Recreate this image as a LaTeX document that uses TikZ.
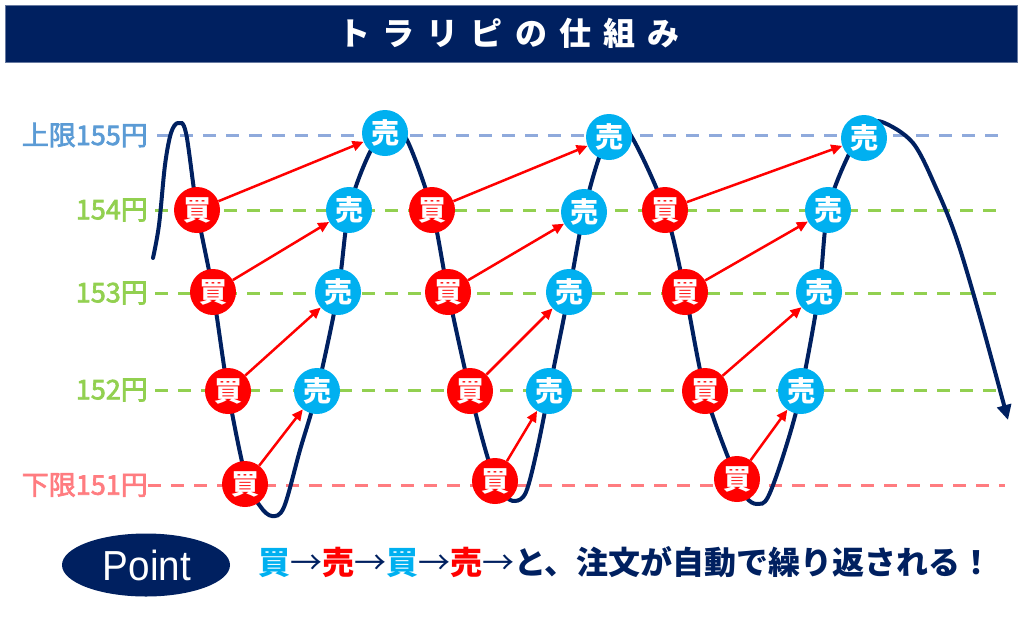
\documentclass[tikz,border=0pt]{standalone}
\usepackage{fontspec}
\setmainfont{Noto Sans CJK JP}
\newfontfamily\jp{Noto Sans CJK JP}
\newfontfamily\jpmed{Noto Sans CJK JP}[FakeBold=2.5]
\newfontfamily\jptitle{Noto Sans CJK JP}[LetterSpace=38]
\newfontfamily\pointfont{Liberation Sans}
\usetikzlibrary{arrows.meta,shapes.geometric}
\definecolor{navy}{HTML}{002060}
\definecolor{buyred}{HTML}{FF0000}
\definecolor{sellcyan}{HTML}{00B0F0}
\definecolor{topblue}{HTML}{8FAADC}
\definecolor{toptext}{HTML}{5B9BD5}
\definecolor{midgreen}{HTML}{92D050}
\definecolor{lowpink}{HTML}{FF7C80}
\tikzset{
  buy/.style={circle, fill=buyred, minimum size=46pt, inner sep=0pt, text=white,
    font=\jp\bfseries\fontsize{28}{28}\selectfont},
  sell/.style={circle, fill=sellcyan, minimum size=46pt, inner sep=0pt, text=white,
    font=\jp\bfseries\fontsize{28}{28}\selectfont},
  lvl/.style={anchor=east, inner sep=0pt, font=\jpmed\fontsize{27}{27}\selectfont},
  gridline/.style={dash pattern=on 13pt off 10pt, line width=3pt},
  pricecurve/.style={navy, line width=4pt, line cap=round},
  order/.style={buyred, line width=2.5pt, -{Triangle[length=11pt,width=10pt]}},
}
\newcommand{\thinarrow}{{\mdseries\jp →}}
\begin{document}
\begin{tikzpicture}[x=1pt,y=-1pt]
\useasboundingbox (0,0) rectangle (1024,616);
% title
\node[fill=navy, draw=navy!60, line width=0.8pt, minimum width=1012pt, minimum height=57pt, anchor=north west, inner sep=0pt] (title) at (5,5) {};
\node[text=white, font=\jptitle\bfseries\fontsize{32}{32}\selectfont, inner sep=0pt] (titletext) at (509,33) {トラリピの仕組み};
% level labels
\node[lvl, text=toptext] (l155) at (148,135) {上限155円};
\node[lvl, text=midgreen] (l154) at (148,210) {154円};
\node[lvl, text=midgreen] (l153) at (148,293) {153円};
\node[lvl, text=midgreen] (l152) at (148,390) {152円};
\node[lvl, text=lowpink] (l151) at (148,485) {下限151円};
\coordinate (e155) at (1005,135);
\coordinate (e154) at (1005,210);
\coordinate (e153) at (1005,293);
\coordinate (e152) at (1005,390);
\coordinate (e151) at (1005,485);
\draw[gridline, topblue, shorten <=9pt] (l155.east) -- (e155);
\draw[gridline, midgreen, shorten <=7pt] (l154.east) -- (e154);
\draw[gridline, midgreen, shorten <=7pt] (l153.east) -- (e153);
\draw[gridline, midgreen, shorten <=7pt] (l152.east) -- (e152);
\draw[gridline, lowpink] (l151.east) -- (e151);
% price curve
\draw[pricecurve, -{Triangle[length=15pt,width=14pt]}] plot[smooth, tension=0.55] coordinates {
 (153,258) (159,225) (165,165) (171,133) (178,123) (186,133) (197,210) (213,292) (228,391)
 (246,478) (260,506) (272,516) (284,507) (300,450) (317,391) (338,292) (349,210) (370,152)
 (390,126) (407,140) (432,210) (448,292) (470,391) (490,465) (504,494) (515,501) (526,492)
 (537,450) (549,391) (569,292) (584,212) (600,155) (614,131) (630,134) (665,210) (685,292)
 (705,391) (733,470) (746,497) (757,504) (768,497) (785,450) (801,391) (819,292) (828,210)
 (850,152) (868,127) (882,122) (913,143) (937,190) (957,240) (980,317) (1008,420)};
% buy nodes
\node[buy] (b1a) at (197,210) {買};
\node[buy] (b1b) at (213,292) {買};
\node[buy] (b1c) at (228,391) {買};
\node[buy] (b1d) at (245,484) {買};
\node[buy] (b2a) at (432,210) {買};
\node[buy] (b2b) at (448,292) {買};
\node[buy] (b2c) at (470,391) {買};
\node[buy] (b2d) at (495,481) {買};
\node[buy] (b3a) at (665,210) {買};
\node[buy] (b3b) at (685,292) {買};
\node[buy] (b3c) at (705,391) {買};
\node[buy] (b3d) at (737,479) {買};
% sell nodes
\node[sell] (s1a) at (385,133) {売};
\node[sell] (s1b) at (349,210) {売};
\node[sell] (s1c) at (338,292) {売};
\node[sell] (s1d) at (317,391) {売};
\node[sell] (s2a) at (609,137) {売};
\node[sell] (s2b) at (584,212) {売};
\node[sell] (s2c) at (569,292) {売};
\node[sell] (s2d) at (549,391) {売};
\node[sell] (s3a) at (864,138) {売};
\node[sell] (s3b) at (828,210) {売};
\node[sell] (s3c) at (819,292) {売};
\node[sell] (s3d) at (801,391) {売};
% orders
\foreach \c in {1,2,3}{
  \draw[order] (b\c a) -- (s\c a);
  \draw[order] (b\c b) -- (s\c b);
  \draw[order] (b\c c) -- (s\c c);
  \draw[order] (b\c d) -- (s\c d);
}
% point
\node[ellipse, fill=navy, minimum width=168pt, minimum height=63pt, inner sep=0pt] (pt) at (146,565) {};
\node[text=white, font=\pointfont\fontsize{42}{42}\selectfont, inner sep=0pt, xscale=0.92] (pttext) at (147,565) {Point};
\node[anchor=west, inner sep=0pt, text=navy, font=\jp\bfseries\fontsize{32}{32}\selectfont] (msg) at (258,562)
 {{\color{sellcyan}買}\thinarrow{\color{buyred}売}\thinarrow{\color{sellcyan}買}\thinarrow{\color{buyred}売}\thinarrow と、注文が自動で繰り返される！};
\end{tikzpicture}
\end{document}
